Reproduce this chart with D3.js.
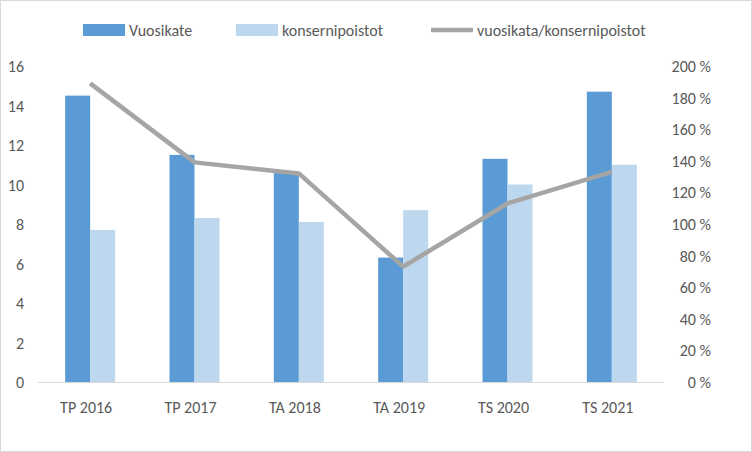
<!DOCTYPE html>
<html><head><meta charset="utf-8">
<script src="https://cdn.jsdelivr.net/npm/d3@7/dist/d3.min.js"></script>
<style>body{margin:0;background:#fff}text{font-family:Calibri,Carlito,"Open Sans",sans-serif}</style>
</head><body><svg width="752" height="452"></svg>
<script>
const categories=["TP 2016","TP 2017","TA 2018","TA 2019","TS 2020","TS 2021"];
const vuosikate=[14.5,11.5,10.6,6.3,11.3,14.7];
const konsernipoistot=[7.7,8.3,8.1,8.7,10.0,11.0];
const ratio=[189,139,132,73,113,133];
const leftTicks=[0,2,4,6,8,10,12,14,16];
const rightTicks=[0,20,40,60,80,100,120,140,160,180,200];
const svg=d3.select("svg");
svg.append("rect").attr("x",0.5).attr("y",0.5).attr("width",751).attr("height",451).attr("fill","#fff").attr("stroke","#d9d9d9");
const L=38,R=664,T=66,B=382;
const x=d3.scaleBand().domain(categories).range([L,R]);
const y=d3.scaleLinear().domain([0,16]).range([B,T]);
const y2=d3.scaleLinear().domain([0,200]).range([B,T]);
const bw=25;
const g=svg.append("g");
categories.forEach((c,i)=>{
  const cx=x(c)+x.bandwidth()/2;
  g.append("rect").attr("x",cx-bw).attr("width",bw).attr("y",y(vuosikate[i])).attr("height",B-y(vuosikate[i])).attr("fill","#5b9bd5");
  g.append("rect").attr("x",cx).attr("width",bw).attr("y",y(konsernipoistot[i])).attr("height",B-y(konsernipoistot[i])).attr("fill","#bdd7ee");
});
svg.append("line").attr("x1",L).attr("x2",R).attr("y1",B+0.5).attr("y2",B+0.5).attr("stroke","#d9d9d9");
const line=d3.line().x((d,i)=>x(categories[i])+x.bandwidth()/2).y(d=>y2(d));
svg.append("path").attr("d",line(ratio)).attr("fill","none").attr("stroke","#a5a5a5").attr("stroke-width",4.5).attr("stroke-linejoin","round");
const fs=16,col="#595959";
leftTicks.forEach(t=>svg.append("text").attr("x",24).attr("y",y(t)+6).attr("text-anchor","end").attr("font-size",fs).attr("fill",col).text(t));
rightTicks.forEach(t=>svg.append("text").attr("x",711).attr("y",y2(t)+6).attr("text-anchor","end").attr("font-size",fs).attr("fill",col).text(t+" %"));
categories.forEach(c=>svg.append("text").attr("x",x(c)+x.bandwidth()/2-4).attr("y",413).attr("text-anchor","middle").attr("font-size",fs).attr("fill",col).text(c));
const lg=svg.append("g");
lg.append("rect").attr("x",83).attr("y",24).attr("width",42).attr("height",12).attr("fill","#5b9bd5");
lg.append("text").attr("x",129).attr("y",36).attr("font-size",fs).attr("fill",col).text("Vuosikate");
lg.append("rect").attr("x",236).attr("y",24).attr("width",42).attr("height",12).attr("fill","#bdd7ee");
lg.append("text").attr("x",282).attr("y",36).attr("font-size",fs).attr("fill",col).text("konsernipoistot");
lg.append("line").attr("x1",431).attr("x2",473).attr("y1",30).attr("y2",30).attr("stroke","#a5a5a5").attr("stroke-width",4.5);
lg.append("text").attr("x",477).attr("y",36).attr("font-size",fs).attr("fill",col).text("vuosikata/konsernipoistot");
</script></body></html>
